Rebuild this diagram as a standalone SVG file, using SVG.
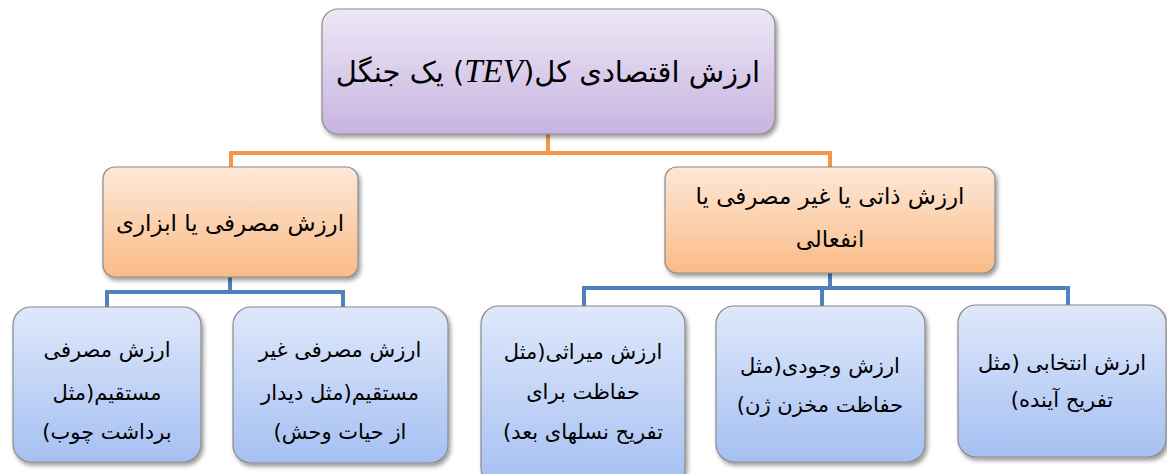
<svg xmlns="http://www.w3.org/2000/svg" width="1167" height="474" viewBox="0 0 1167 474">
<defs>
<linearGradient id="gP" x1="0" y1="0" x2="0" y2="1"><stop offset="0" stop-color="#eee8f6"/><stop offset="1" stop-color="#c7b3e0"/></linearGradient>
<linearGradient id="gO" x1="0" y1="0" x2="0" y2="1"><stop offset="0" stop-color="#fde8d8"/><stop offset="1" stop-color="#fabb86"/></linearGradient>
<linearGradient id="gB" x1="0" y1="0" x2="0" y2="1"><stop offset="0" stop-color="#dfe8fb"/><stop offset="1" stop-color="#a5c0f2"/></linearGradient>
<filter id="sh" x="-10%" y="-10%" width="125%" height="130%"><feDropShadow dx="2" dy="3" stdDeviation="2" flood-color="#000" flood-opacity="0.4"/></filter>
</defs>
<style>
.box{stroke:#8a8a8a;stroke-width:1.2;filter:url(#sh)}
.p{fill:url(#gP)}.o{fill:url(#gO)}.b{fill:url(#gB)}
text{font-family:"DejaVu Sans","Noto Sans",sans-serif;fill:#000;text-anchor:middle;direction:rtl}
.t1{font-size:29px}.t2{font-size:23px}.t3{font-size:21px}
.lat{font-family:"Liberation Serif",serif;font-style:italic;font-size:33px}
.co{fill:none;stroke:#f79646;stroke-width:4}
.cb{fill:none;stroke:#4f81bd;stroke-width:4}
</style>
<g id="connectors">
<path class="co" d="M548,134 V153 M231,168 V153 H830 V168"/>
<path class="cb" d="M230,277 V292 M107,307 V292 H343 V307"/>
<path class="cb" d="M830,273 V288 M584,306 V288 H1068 V305 M822,288 V306"/>
</g>
<g id="n_top"><rect class="box p" x="322" y="9" width="453" height="125" rx="16"/>
<text class="t1" x="548" y="82" direction="rtl">ارزش اقتصادی کل(<tspan class="lat">TEV</tspan>) یک جنگل</text></g>
<g id="n_use"><rect class="box o" x="103" y="167" width="255" height="110" rx="12"/>
<text class="t2" x="230" y="231">ارزش مصرفی یا ابزاری</text></g>
<g id="n_nonuse"><rect class="box o" x="665" y="167" width="330" height="106" rx="12"/>
<text class="t2" x="830" y="204">ارزش ذاتی یا غیر مصرفی یا</text>
<text class="t2" x="830" y="247">انفعالی</text></g>
<g id="n_direct"><rect class="box b" x="13" y="307" width="188" height="155" rx="18"/>
<text class="t3" x="107" y="357">ارزش مصرفی</text>
<text class="t3" x="107" y="400">مستقیم(مثل</text>
<text class="t3" x="107" y="439">برداشت چوب)</text></g>
<g id="n_indirect"><rect class="box b" x="233" y="307" width="215" height="156" rx="18"/>
<text class="t3" x="340" y="357">ارزش مصرفی غیر</text>
<text class="t3" x="340" y="400">مستقیم(مثل دیدار</text>
<text class="t3" x="340" y="439">از حیات وحش)</text></g>
<g id="n_bequest"><rect class="box b" x="481" y="306" width="204" height="180" rx="18"/>
<text class="t3" x="583" y="359">ارزش میراثی(مثل</text>
<text class="t3" x="583" y="399">حفاظت برای</text>
<text class="t3" x="583" y="439">تفریح نسلهای بعد)</text></g>
<g id="n_exist"><rect class="box b" x="716" y="306" width="209" height="156" rx="18"/>
<text class="t3" x="820" y="373">ارزش وجودی(مثل</text>
<text class="t3" x="820" y="412">حفاظت مخزن ژن)</text></g>
<g id="n_option"><rect class="box b" x="958" y="305" width="208" height="152" rx="18"/>
<text class="t3" x="1062" y="370">ارزش انتخابی (مثل</text>
<text class="t3" x="1062" y="407">تفریح آینده)</text></g>
</svg>
